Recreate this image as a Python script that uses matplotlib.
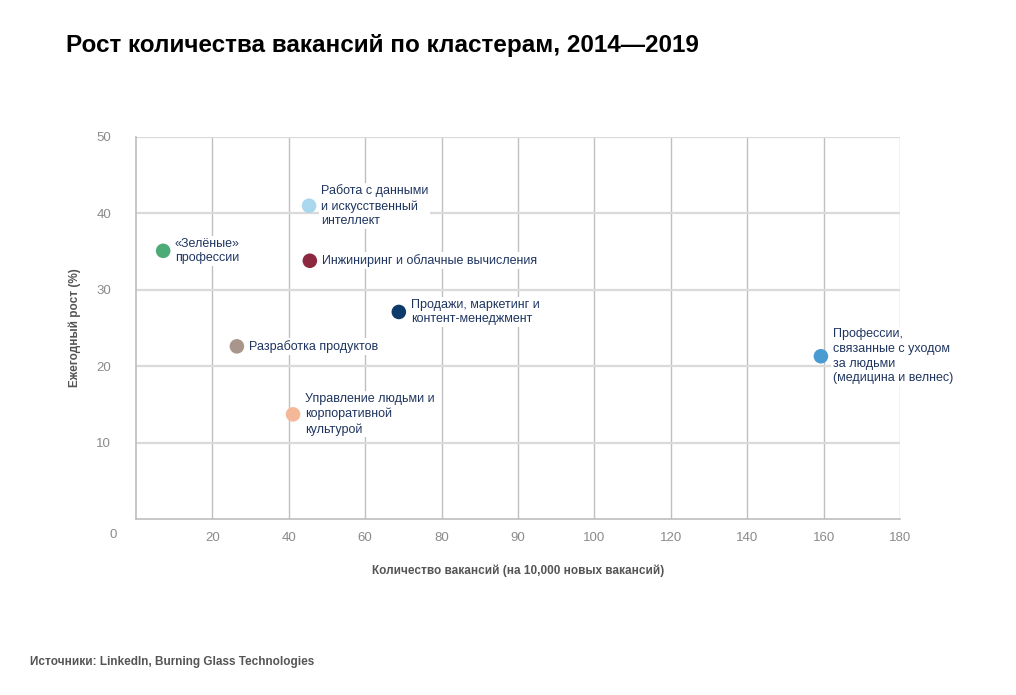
import numpy as np
import matplotlib.pyplot as plt

plt.rcParams['font.family'] = ['Liberation Sans', 'DejaVu Sans']

# кластеры и значения (x в единицах оси, каждая линия сетки = 20)
clusters = ["«Зелёные»\nпрофессии",
            "Работа с данными\nи искусственный\nинтеллект",
            "Инжиниринг и облачные вычисления",
            "Продажи, маркетинг и\nконтент-менеджмент",
            "Разработка продуктов",
            "Управление людьми и\nкорпоративной\nкультурой",
            "Профессии,\nсвязанные с уходом\nза людьми\n(медицина и велнес)"]
vacancies = [7.1, 45.3, 45.5, 68.8, 26.4, 41.1, 179.3]
growth = [35.1, 41.0, 33.8, 27.1, 22.6, 13.7, 21.3]
colors = ["#4dab78", "#a9d7ee", "#8c2840", "#0b3a6b", "#a8968c", "#f4b797", "#4a9bd2"]

x_ticks = np.arange(0, 201, 20)
x_labels = ["", "20", "40", "60", "80", "90", "100", "120", "140", "160", "180"]
y_ticks = [10, 20, 30, 40, 50]

fig = plt.figure(figsize=(10.16, 6.95), dpi=100)
ax = fig.add_axes([0.1339, 0.2532, 0.7519, 0.5497])

ax.set_xlim(0, 200)
ax.set_ylim(0, 50)
ax.set_xticks(x_ticks)
ax.set_xticklabels(x_labels)
ax.set_yticks(y_ticks)
ax.tick_params(length=0, colors="#8a8a8a", labelsize=9.5)
ax.tick_params(axis="x", pad=9)
ax.tick_params(axis="y", pad=18)

# сетка
for xv in x_ticks[1:]:
    ax.axvline(xv, color="#c0c0c0", lw=1, zorder=0)
for yv in y_ticks:
    ax.axhline(yv, color="#dadada", lw=1.6, zorder=0)
for s in ["top", "right"]:
    ax.spines[s].set_visible(False)
for s in ["left", "bottom"]:
    ax.spines[s].set_color("#bdbdbd")
    ax.spines[s].set_linewidth(1.2)

ax.text(-0.03, -0.043, "0", transform=ax.transAxes, ha="center", va="center",
        color="#8a8a8a", fontsize=9.5)

ax.scatter(vacancies, growth, s=110, c=colors, zorder=3, linewidths=0)

for name, xv, yv in zip(clusters, vacancies, growth):
    ax.annotate(name, (xv, yv), xytext=(8.5, 0), textcoords="offset points",
                ha="left", va="center", fontsize=9, color="#1f3560",
                linespacing=1.28, zorder=4,
                bbox=dict(boxstyle="square,pad=0.15", fc="white", ec="none"))

ax.set_xlabel("Количество вакансий (на 10,000 новых вакансий)", fontsize=8.5,
              fontweight="bold", color="#555555", labelpad=15)
ax.set_ylabel("Ежегодный рост (%)", fontsize=8.5, fontweight="bold",
              color="#555555", labelpad=11)

fig.text(0.065, 0.935, "Рост количества вакансий по кластерам, 2014—2019",
         fontsize=17.5, fontweight="bold", color="black", va="center")
fig.text(0.03, 0.047, "Источники: LinkedIn, Burning Glass Technologies",
         fontsize=8.5, fontweight="bold", color="#555555", va="center")

fig.savefig("out.png", dpi=100)
